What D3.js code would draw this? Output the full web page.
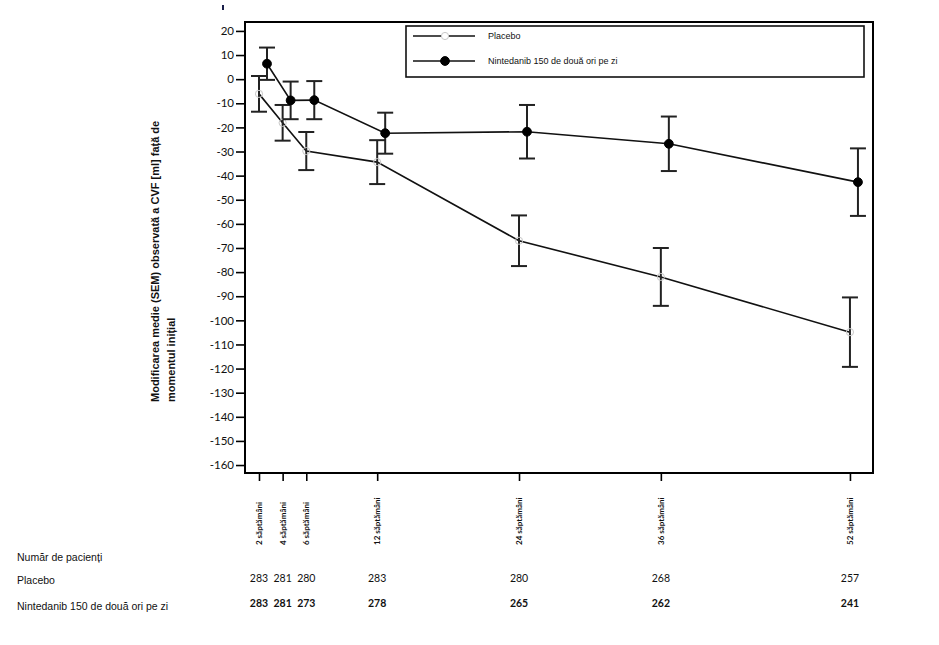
<!DOCTYPE html>
<html>
<head>
<meta charset="utf-8">
<script src="https://cdn.jsdelivr.net/npm/d3@7"></script>
<style>
  body { margin: 0; background: #fff; }
  svg { display: block; background: #fff; }
</style>
</head>
<body>
<svg id="chart" width="939" height="645"></svg>
<script>
// DATA ////////////////////////////////////////////////////////////////////////
var weeks = [2, 4, 6, 12, 24, 36, 52];
var weekLabels = ["2 săptămâni", "4 săptămâni", "6 săptămâni", "12 săptămâni",
                  "24 săptămâni", "36 săptămâni", "52 săptămâni"];
var placeboMean = [-6.1, -18.1, -29.8, -34.4, -67, -82, -104.9];
var placeboSem = [7.4, 7.4, 7.9, 9.1, 10.5, 12, 14.4];
var nintedanibMean = [6.4, -8.8, -8.7, -22.4, -21.8, -26.8, -42.7];
var nintedanibSem = [6.7, 7.8, 7.9, 8.5, 11.1, 11.3, 14];
var placeboN = [283, 281, 280, 283, 280, 268, 257];
var nintedanibN = [283, 281, 273, 278, 265, 262, 241];
var yTicks = d3.range(20, -161, -10);
var seriesNames = ["Placebo", "Nintedanib 150 de două ori pe zi"];
var rowTitle = "Număr de pacienți";
var yTitle = ["Modificarea medie (SEM) observată a CVF [ml] față de", "momentul inițial"];

// SETUP ///////////////////////////////////////////////////////////////////////
var PLOT = { left: 245, right: 873, top: 22, bottom: 473 };
var DODGE = 8; // nintedanib points sit a little right of the tick

var svg = d3.select("#chart");

var x = d3.scaleLinear().domain([0.816, 53.95]).range([PLOT.left, PLOT.right]);
var y = d3.scaleLinear().domain([-163.3, 23.7]).range([PLOT.bottom, PLOT.top]);

var placebo = weeks.map(function (w, i) { return { week: w, mean: placeboMean[i], sem: placeboSem[i] }; });
var nintedanib = weeks.map(function (w, i) { return { week: w, mean: nintedanibMean[i], sem: nintedanibSem[i] }; });

// AXES ////////////////////////////////////////////////////////////////////////
function drawAxes() {
    var yAxis = svg.append("g")
        .attr("transform", "translate(" + PLOT.left + ",0)")
        .call(d3.axisLeft(y).tickValues(yTicks).tickSize(9).tickPadding(2).tickSizeOuter(0)
            .tickFormat(function (d) { return String(d); })); // plain hyphen minus
    yAxis.select(".domain").remove();
    yAxis.selectAll("line").attr("stroke", "#000").attr("stroke-width", 1.6);
    yAxis.selectAll("text")
        .attr("fill", "#111")
        .style("font-family", "Lato, 'Open Sans', sans-serif")
        .style("font-size", "11.5px");

    var xAxis = svg.append("g")
        .attr("transform", "translate(0," + PLOT.bottom + ")")
        .call(d3.axisBottom(x).tickValues(weeks).tickSize(8).tickSizeOuter(0)
            .tickFormat(function (d, i) { return weekLabels[i]; }));
    xAxis.select(".domain").remove();
    xAxis.selectAll("line").attr("stroke", "#000").attr("stroke-width", 1.6);
    xAxis.selectAll("text")
        .attr("fill", "#111")
        .attr("text-anchor", "start")
        .attr("transform", "translate(0,72) rotate(-90)")
        .attr("x", 0)
        .attr("y", 0)
        .attr("dy", "0.32em")
        .style("font-family", "Lato, 'Open Sans', sans-serif")
        .style("font-weight", "bold")
        .style("font-size", "8px");

    // plot frame
    svg.append("rect")
        .attr("x", PLOT.left)
        .attr("y", PLOT.top)
        .attr("width", PLOT.right - PLOT.left)
        .attr("height", PLOT.bottom - PLOT.top)
        .attr("fill", "none")
        .attr("stroke", "#000")
        .attr("stroke-width", 2);

    // y title, two lines reading bottom to top
    var title = svg.append("text")
        .attr("transform", "translate(159,402) rotate(-90)")
        .attr("text-anchor", "start")
        .attr("fill", "#111")
        .style("font-family", "'Liberation Sans', Arial, sans-serif")
        .style("font-weight", "bold")
        .style("font-size", "11px");
    title.selectAll("tspan")
        .data(yTitle)
        .enter().append("tspan")
        .attr("x", 0)
        .attr("dy", function (d, i) { return i === 0 ? 0 : 16; })
        .text(function (d) { return d; });
}

// SERIES //////////////////////////////////////////////////////////////////////
function drawSeries(data, dx, filled) {
    var g = svg.append("g");
    var line = d3.line()
        .x(function (d) { return x(d.week) + dx; })
        .y(function (d) { return y(d.mean); });

    g.append("path")
        .datum(data)
        .attr("d", line)
        .attr("fill", "none")
        .attr("stroke", "#111")
        .attr("stroke-width", 1.6);

    var bars = g.selectAll("g.err")
        .data(data)
        .enter().append("g")
        .attr("class", "err")
        .attr("stroke", "#222")
        .attr("stroke-width", 2);
    bars.append("line")
        .attr("x1", function (d) { return x(d.week) + dx; })
        .attr("x2", function (d) { return x(d.week) + dx; })
        .attr("y1", function (d) { return y(d.mean + d.sem); })
        .attr("y2", function (d) { return y(d.mean - d.sem); });
    [1, -1].forEach(function (s) {
        bars.append("line")
            .attr("x1", function (d) { return x(d.week) + dx - 8; })
            .attr("x2", function (d) { return x(d.week) + dx + 8; })
            .attr("y1", function (d) { return y(d.mean + s * d.sem); })
            .attr("y2", function (d) { return y(d.mean + s * d.sem); });
    });

    g.selectAll("circle")
        .data(data)
        .enter().append("circle")
        .attr("cx", function (d) { return x(d.week) + dx; })
        .attr("cy", function (d) { return y(d.mean); })
        .attr("r", filled ? 4.4 : 3.6)
        .attr("fill", filled ? "#000" : "none")
        .attr("stroke", filled ? "#000" : "#c8c8c8")
        .attr("stroke-width", 1);
}

// LEGEND //////////////////////////////////////////////////////////////////////
function drawLegend() {
    var lg = svg.append("g");
    lg.append("rect")
        .attr("x", 406).attr("y", 26)
        .attr("width", 458).attr("height", 51)
        .attr("fill", "#fff")
        .attr("stroke", "#111")
        .attr("stroke-width", 1.6);

    var rows = lg.selectAll("g.row")
        .data(seriesNames)
        .enter().append("g")
        .attr("class", "row")
        .attr("transform", function (d, i) { return "translate(0," + (36 + i * 25) + ")"; });
    rows.append("line")
        .attr("x1", 413).attr("x2", 475)
        .attr("stroke", "#111")
        .attr("stroke-width", 1.6);
    rows.append("circle")
        .attr("cx", 445)
        .attr("r", function (d, i) { return i === 0 ? 3.6 : 4.4; })
        .attr("fill", function (d, i) { return i === 0 ? "#fff" : "#000"; })
        .attr("stroke", function (d, i) { return i === 0 ? "#c8c8c8" : "#000"; });
    rows.append("text")
        .attr("x", 488)
        .attr("dy", "0.35em")
        .attr("fill", "#111")
        .style("font-family", "'Liberation Sans', Arial, sans-serif")
        .style("font-size", "9px")
        .text(function (d) { return d; });
}

// PATIENT TABLE ///////////////////////////////////////////////////////////////
function drawTable() {
    var labelFont = "'Liberation Sans', Arial, sans-serif";
    svg.append("text")
        .attr("x", 17).attr("y", 561)
        .attr("fill", "#111")
        .style("font-family", labelFont)
        .style("font-size", "10.5px")
        .text(rowTitle);

    var rowsY = [582, 607];
    var counts = [placeboN, nintedanibN];
    seriesNames.forEach(function (name, r) {
        svg.append("text")
            .attr("x", 17).attr("y", rowsY[r] + 2 + r)
            .attr("fill", "#111")
            .style("font-family", labelFont)
            .style("font-size", "10.5px")
            .text(name);
        svg.append("g")
            .selectAll("text")
            .data(counts[r])
            .enter().append("text")
            .attr("x", function (d, i) { return x(weeks[i]); })
            .attr("y", rowsY[r])
            .attr("text-anchor", "middle")
            .attr("fill", "#111")
            .style("font-family", "Lato, 'Open Sans', sans-serif")
            .style("font-weight", r === 1 ? "bold" : "normal")
            .style("font-size", "10.5px")
            .text(function (d) { return d; });
    });
}

drawAxes();
drawSeries(placebo, 0, false);
drawSeries(nintedanib, DODGE, true);
drawLegend();
drawTable();

// small stray mark above the plot in the original
svg.append("rect").attr("x", 222).attr("y", 5).attr("width", 2).attr("height", 5).attr("fill", "#1a1f4a");
</script>
</body>
</html>
